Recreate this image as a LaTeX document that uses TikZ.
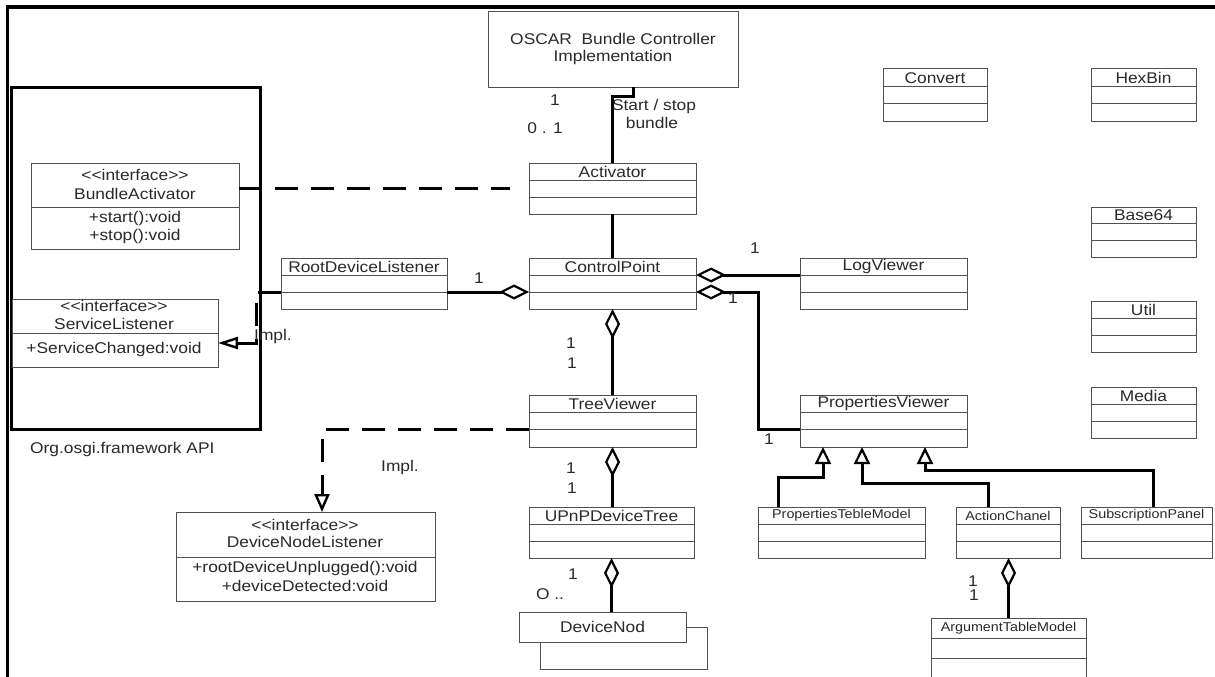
\documentclass[tikz,border=0pt]{standalone}
\usepackage{fontspec}
\newfontfamily\ls{Liberation Sans}[FakeStretch=1.12]
\usetikzlibrary{arrows.meta,calc,fit}
\newcommand\fnA{\fontsize{15.5}{17.5}\selectfont}
\newcommand\fnB{\fontsize{12.8}{15}\selectfont}
\definecolor{txt}{HTML}{2A2A2A}
\definecolor{bx}{HTML}{505050}
\tikzset{
  clsbox/.style={draw=bx, line width=1pt, inner sep=0pt, outer sep=0pt},
  boxline/.style={draw=bx, line width=1pt},
  lbl/.style={text=txt, inner sep=0pt},
  conn/.style={line width=3pt, draw=black},
  dashl/.style={conn, dash pattern=on 23pt off 13pt},
  aggend/.style={-{Diamond[open,length=30pt,width=15pt,line width=2.2pt]}},
  aggstart/.style={{Diamond[open,length=30pt,width=15pt,line width=2.2pt]}-},
  inhend/.style={-{Triangle[open,length=17pt,width=16pt,line width=2.2pt]}},
  realend/.style={-{Triangle[open,length=20pt,width=12pt,line width=2.4pt]}},
  realendb/.style={-{Triangle[open,length=18pt,width=15pt,line width=2.4pt]}},
}
\newcommand\umlcls[7]{%
  \node[clsbox, fit={(#2,#3) (#4,#5)}] (#1) {};
  \draw[boxline] ($(#1.north west)!1/3!(#1.south west)$) -- ($(#1.north east)!1/3!(#1.south east)$);
  \draw[boxline] ($(#1.north west)!2/3!(#1.south west)$) -- ($(#1.north east)!2/3!(#1.south east)$);
  \node[lbl, font=\ls#7] (#1-title) at ($(#1.north)!1/6!(#1.south)$) {#6};
}
\begin{document}
\begin{tikzpicture}[x=1pt,y=-1pt,font=\ls\fnA]
\path[use as bounding box, clip] (0,0) rectangle (1215,677);
\fill[white] (0,0) rectangle (1215,677);
% frame
\draw[line width=3.5pt] (7.5,690) -- (7.5,7) -- (1220,7);
\node[draw, line width=3pt, inner sep=0pt, fit={(11.5,87) (260,429)}] (api) {};
\node[lbl, anchor=west] (apil) at (30,449) {Org.osgi.framework API};

% OSCAR
\node[clsbox, fit={(488,12) (738,87)}] (osc) {};
\node[lbl, align=center] (osct) at (613,49) {OSCAR\ \ Bundle Controller\\Implementation};

% interfaces
\node[clsbox, fit={(31,163) (239,249)}] (ba) {};
\draw[boxline] (ba.west |- 0,207) -- (ba.east |- 0,207);
\node[lbl] (ba1) at (135,175) {<<interface>>};
\node[lbl] (ba2) at (135,194) {BundleActivator};
\node[lbl] (ba3) at (135,218) {+start():void};
\node[lbl] (ba4) at (135,236) {+stop():void};

\node[clsbox, fit={(12,299) (218,367)}] (sl) {};
\draw[boxline] (sl.west |- 0,333) -- (sl.east |- 0,333);
\node[lbl] (sl1) at (114,306) {<<interface>>};
\node[lbl] (sl2) at (114,324) {ServiceListener};
\node[lbl] (sl3) at (114,349) {+ServiceChanged:void};

\node[clsbox, fit={(176,512) (435,601)}] (dnl) {};
\draw[boxline] (dnl.west |- 0,557) -- (dnl.east |- 0,557);
\node[lbl] (dnl1) at (305,525) {<<interface>>};
\node[lbl] (dnl2) at (305,542) {DeviceNodeListener};
\node[lbl] (dnl3) at (305,568) {+rootDeviceUnplugged():void};
\node[lbl] (dnl4) at (305,586) {+deviceDetected:void};

% classes
\umlcls{act}{529}{163}{696}{214}{Activator}{\fnA}
\umlcls{cp}{529}{258}{696}{309}{ControlPoint}{\fnA}
\umlcls{rdl}{281}{258}{447}{309}{RootDeviceListener}{\fnA}
\umlcls{lv}{800}{258}{967}{309}{LogViewer}{\fnA}
\umlcls{tv}{529}{395}{696}{447}{TreeViewer}{\fnA}
\umlcls{pv}{800}{395}{967}{447}{PropertiesViewer}{\fnA}
\umlcls{up}{529}{507}{694}{558}{UPnPDeviceTree}{\fnA}
\umlcls{ptm}{758}{507}{925}{558}{PropertiesTebleModel}{\fnB}
\umlcls{ac}{956}{507}{1060}{558}{ActionChanel}{\fnB}
\umlcls{sp}{1081}{507}{1212}{558}{SubscriptionPanel}{\fnB}
\umlcls{atm}{931}{618}{1086}{678}{ArgumentTableModel}{\fnB}
\umlcls{cv}{883}{69}{987}{121}{Convert}{\fnA}
\umlcls{hb}{1091}{69}{1196}{121}{HexBin}{\fnA}
\umlcls{b64}{1091}{207}{1196}{257}{Base64}{\fnA}
\umlcls{ut}{1091}{301}{1196}{352}{Util}{\fnA}
\umlcls{md}{1091}{387}{1196}{438}{Media}{\fnA}

\node[clsbox, fit={(519,612) (686,642)}] (dn) {};
\node[lbl] (dn-title) at (dn) {DeviceNod};

% connectors
\draw[conn] ([xshift=20pt]osc.south) -- ++(0,9) -| (act.north);
\draw[conn] (act.south) -- (cp.north);
\draw[dashl] (ba.east |- act.west) -- ([xshift=-19pt]act.west);
\draw[conn, aggend] ([yshift=-8.5pt]rdl.east) -- ([yshift=-8.5pt]cp.west);
\draw[dashl, realend] ([yshift=-8.5pt]rdl.west) -| ([xshift=38pt,yshift=-10pt]sl.east) -- ([yshift=-10pt]sl.east);
\draw[conn, aggend] ([yshift=8.5pt]lv.west) -- ([yshift=8.5pt]cp.east);
\draw[conn, aggstart] ([yshift=-8.5pt]cp.east) -- ([xshift=62pt,yshift=-8.5pt]cp.east) |- ([yshift=-8.5pt]pv.west);
\draw[conn, aggend] (tv.north) -- (cp.south);
\draw[dashl, realendb] ([yshift=-8.5pt]tv.west) -| ([xshift=16.5pt]dnl.north);
\draw[conn, aggend] (tv.south |- up.north) -- (tv.south);
\draw[conn, aggend] (up.south |- dn.north) -- (up.south);
\draw[boxline] (dn.east) -- ++(21,0) -- ++(0,42) -| ([xshift=-62.5pt]dn.south);
\draw[conn, inhend] ([xshift=-63.5pt]ptm.north) -- ++(0,-30) -| ([xshift=-60.5pt]pv.south);
\draw[conn, inhend] ([xshift=-20pt]ac.north) -- ++(0,-24) -| ([xshift=-21.5pt]pv.south);
\draw[conn, inhend] ([xshift=6.5pt]sp.north) -- ++(0,-37) -| ([xshift=41.5pt]pv.south);
\draw[conn, aggend] (atm.north) -- (atm.north |- ac.south);

% labels
\node[lbl] (m1) at (555,100) {1};
\node[lbl] (m2) at (545,128) {0 . 1};
\node[lbl] (m3) at (654,106) {Start / stop};
\node[lbl] (m4) at (652,123) {bundle};
\node[lbl] (m5) at (479,278) {1};
\node[lbl] (m6) at (755,248) {1};
\node[lbl] (m7) at (733,298) {1};
\node[lbl] (m8) at (769,439) {1};
\node[lbl] (m9) at (571,343) {1};
\node[lbl] (m10) at (572,363) {1};
\node[lbl] (m11) at (571,468) {1};
\node[lbl] (m12) at (572,488) {1};
\node[lbl] (m13) at (573,574) {1};
\node[lbl] (m14) at (550,594) {O ..};
\node[lbl] (m15) at (973,581) {1};
\node[lbl] (m16) at (974,595) {1};
\node[lbl] (i1) at (273,336) {Impl.};
\node[lbl] (i2) at (400,467) {Impl.};
\end{tikzpicture}
\end{document}
